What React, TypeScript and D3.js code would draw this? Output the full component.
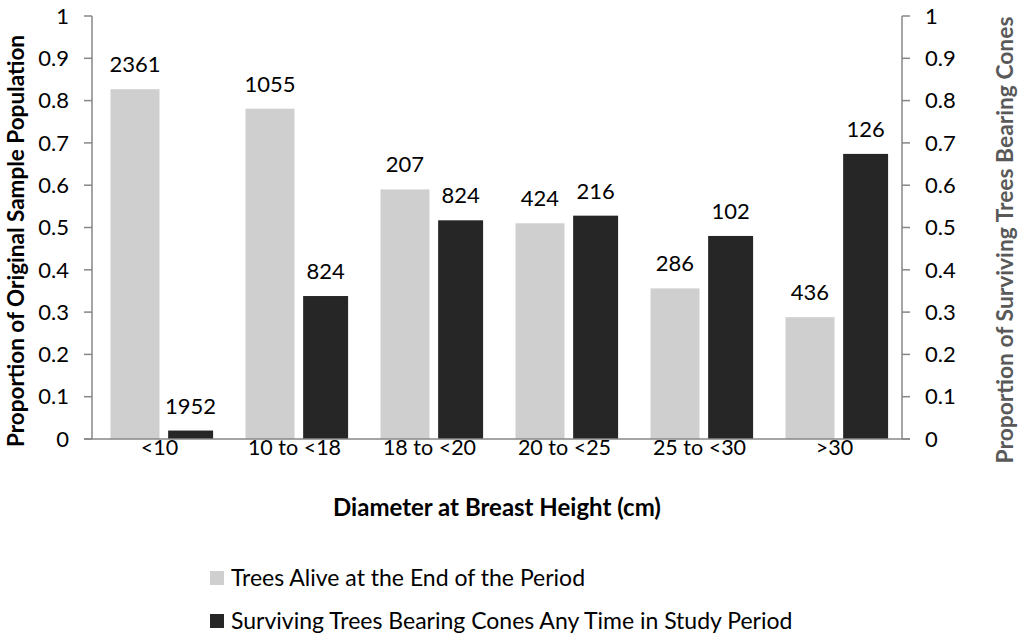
import { useEffect, useRef } from "react"
import * as d3 from "d3"

const categories = ["<10", "10 to <18", "18 to <20", "20 to <25", "25 to <30", ">30"]
const aliveValues = [0.827, 0.781, 0.59, 0.51, 0.356, 0.288]
const aliveLabels = ["2361", "1055", "207", "424", "286", "436"]
const conesValues = [0.02, 0.338, 0.517, 0.528, 0.48, 0.674]
const conesLabels = ["1952", "824", "824", "216", "102", "126"]
const yTicks = [0, 0.1, 0.2, 0.3, 0.4, 0.5, 0.6, 0.7, 0.8, 0.9, 1]
const legendItems = [
  { label: "Trees Alive at the End of the Period", color: "#d0cfd0" },
  { label: "Surviving Trees Bearing Cones Any Time in Study Period", color: "#262626" },
]

const W = 1024
const H = 642
const FONT = "Lato, 'Open Sans', sans-serif"

export default function App() {
  const svgRef = useRef<SVGSVGElement>(null)

  useEffect(() => {
    if (!svgRef.current) return
    const svg = d3.select(svgRef.current)
    svg.selectAll("*").remove()

    const left = 92
    const right = 902
    const top = 16
    const bottom = 439

    const x = d3.scaleBand<string>().domain(categories).range([left, right])
    const y = d3.scaleLinear().domain([0, 1]).range([bottom, top])
    const bw = x.bandwidth()
    const lightW = bw * 0.363
    const darkW = bw * 0.333
    const darkOff = bw * 0.064
    const axisColor = "#878787"

    // left axis
    const gl = svg.append("g")
    gl.append("line").attr("x1", left).attr("x2", left).attr("y1", top).attr("y2", bottom).attr("stroke", axisColor).attr("stroke-width", 1.5)
    yTicks.forEach((t) => {
      gl.append("line").attr("x1", left - 8).attr("x2", left).attr("y1", y(t)).attr("y2", y(t)).attr("stroke", axisColor).attr("stroke-width", 1.5)
      gl.append("text")
        .attr("x", left - 23)
        .attr("y", y(t))
        .attr("dy", "0.35em")
        .attr("text-anchor", "end")
        .attr("font-size", 22)
        .attr("fill", "#000")
        .text(String(t))
    })

    // right axis
    const gr = svg.append("g")
    gr.append("line").attr("x1", right).attr("x2", right).attr("y1", top).attr("y2", bottom).attr("stroke", axisColor).attr("stroke-width", 1.5)
    yTicks.forEach((t) => {
      gr.append("line").attr("x1", right).attr("x2", right + 8).attr("y1", y(t)).attr("y2", y(t)).attr("stroke", axisColor).attr("stroke-width", 1.5)
      gr.append("text")
        .attr("x", right + 23)
        .attr("y", y(t))
        .attr("dy", "0.35em")
        .attr("text-anchor", "start")
        .attr("font-size", 22)
        .attr("fill", "#000")
        .text(String(t))
    })

    // bars
    categories.forEach((c, i) => {
      const cx = (x(c) ?? 0) + bw / 2
      svg.append("rect")
        .attr("x", cx - lightW)
        .attr("y", y(aliveValues[i]))
        .attr("width", lightW)
        .attr("height", bottom - y(aliveValues[i]))
        .attr("fill", legendItems[0].color)
      svg.append("text")
        .attr("x", cx - lightW / 2)
        .attr("y", y(aliveValues[i]) - 17)
        .attr("text-anchor", "middle")
        .attr("font-size", 22)
        .text(aliveLabels[i])

      svg.append("rect")
        .attr("x", cx + darkOff)
        .attr("y", y(conesValues[i]))
        .attr("width", darkW)
        .attr("height", bottom - y(conesValues[i]))
        .attr("fill", legendItems[1].color)
      svg.append("text")
        .attr("x", cx + darkOff + darkW / 2)
        .attr("y", y(conesValues[i]) - 17)
        .attr("text-anchor", "middle")
        .attr("font-size", 22)
        .text(conesLabels[i])

      svg.append("text")
        .attr("x", cx)
        .attr("y", 455)
        .attr("text-anchor", "middle")
        .attr("font-size", 21.5)
        .text(c)
    })

    // baseline
    svg.append("line").attr("x1", left - 8).attr("x2", right + 8).attr("y1", bottom).attr("y2", bottom).attr("stroke", axisColor).attr("stroke-width", 1.5)

    // axis titles
    svg.append("text")
      .attr("x", (left + right) / 2)
      .attr("y", 516)
      .attr("text-anchor", "middle")
      .attr("font-size", 24)
      .attr("font-weight", "bold")
      .text("Diameter at Breast Height (cm)")

    svg.append("text")
      .attr("transform", `translate(24,241) rotate(-90)`)
      .attr("text-anchor", "middle")
      .attr("font-size", 22.5)
      .attr("font-weight", "bold")
      .text("Proportion  of Original Sample Population")

    svg.append("text")
      .attr("transform", `translate(1013,240) rotate(-90)`)
      .attr("text-anchor", "middle")
      .attr("font-size", 22.8)
      .attr("font-weight", "bold")
      .attr("fill", "#595959")
      .text("Proportion of Surviving Trees Bearing Cones")

    // legend
    legendItems.forEach((d, i) => {
      const ly = 578 + i * 43
      svg.append("rect").attr("x", 210).attr("y", ly - 7).attr("width", 14).attr("height", 14).attr("fill", d.color)
      svg.append("text")
        .attr("x", 231)
        .attr("y", ly)
        .attr("dy", "0.35em")
        .attr("font-size", 23)
        .text(d.label)
    })
  }, [])

  return (
    <svg
      ref={svgRef}
      width={W}
      height={H}
      style={{ position: "absolute", left: 0, top: 0, background: "#fff", fontFamily: FONT }}
    />
  )
}
